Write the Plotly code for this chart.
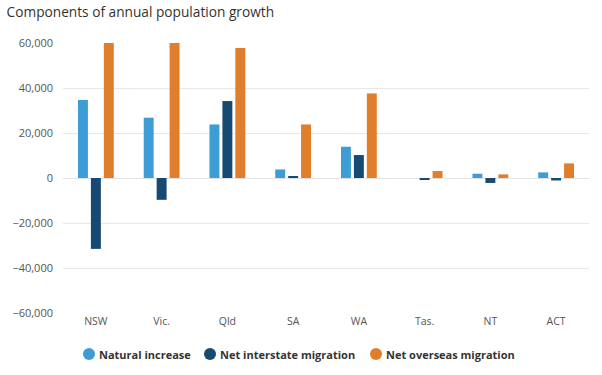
import plotly.graph_objects as go

states = ["NSW", "Vic.", "Qld", "SA", "WA", "Tas.", "NT", "ACT"]
natural_increase = [34700, 26800, 23800, 3800, 13900, 0, 1900, 2500]
net_interstate = [-31500, -9700, 34200, 500, 10200, -700, -2200, -1100]
net_overseas = [60000, 60000, 57800, 23800, 37600, 3100, 1600, 6500]
y_ticks = [-60000, -40000, -20000, 0, 20000, 40000, 60000]

series_names = ["Natural increase", "Net interstate migration", "Net overseas migration"]
series_values = [natural_increase, net_interstate, net_overseas]
series_colors = ["#3f9dd5", "#164a73", "#e07e2c"]

# plot area in pixels (for the hand-placed legend)
PL, PR, PT, PB = 63, 589, 43, 313
W, H = 602, 375
legend_circle_px = [89, 210, 376]
legend_y_px = 354

fig = go.Figure()
for name, vals, col in zip(series_names, series_values, series_colors):
    fig.add_trace(go.Bar(x=states, y=vals, name=name, marker_color=col,
                         marker_line_width=0, showlegend=False))

# custom legend: circle markers + bold labels
ly = (PB - legend_y_px) / (PB - PT)
for name, col, cx in zip(series_names, series_colors, legend_circle_px):
    xp = (cx - PL) / (PR - PL)
    fig.add_shape(type="circle", xref="paper", yref="paper",
                  xsizemode="pixel", ysizemode="pixel", xanchor=xp, yanchor=ly,
                  x0=-6, x1=6, y0=-6, y1=6, fillcolor=col, line_width=0)
    fig.add_annotation(text=name, xref="paper", yref="paper",
                       x=(cx + 9 - PL) / (PR - PL), y=ly, xanchor="left", yanchor="middle",
                       showarrow=False, borderpad=0,
                       font=dict(family="Open Sans", size=11, color="#333333", weight="bold"))

fig.update_layout(
    width=W, height=H,
    margin=dict(l=PL, r=W - PR, t=PT, b=H - PB, autoexpand=False),
    paper_bgcolor="white", plot_bgcolor="white",
    barmode="group", bargap=0.41, bargroupgap=0.23,
    showlegend=False,
    font=dict(family="Open Sans", color="#555555", size=11),
    title=dict(text="Components of annual population growth", x=0.011, xanchor="left",
               y=0.968, yanchor="middle", pad=dict(l=0, r=0, t=0, b=0),
               font=dict(family="Open Sans", size=13.7, color="#333333")),
    xaxis=dict(showgrid=False, showline=False, ticks="", tickfont=dict(size=10.5, color="#555555")),
    yaxis=dict(range=[-60000, 60000], tickvals=y_ticks, tickformat=",",
               gridcolor="#e8e8e8", gridwidth=1, zeroline=True, zerolinecolor="#e2e2e2",
               zerolinewidth=1, showline=False, ticks="", ticklabelstandoff=9,
               tickfont=dict(size=11, color="#555555")),
)
fig.write_html("out.html", config={"displayModeBar": False},
               post_script="document.body.style.margin='0';")
